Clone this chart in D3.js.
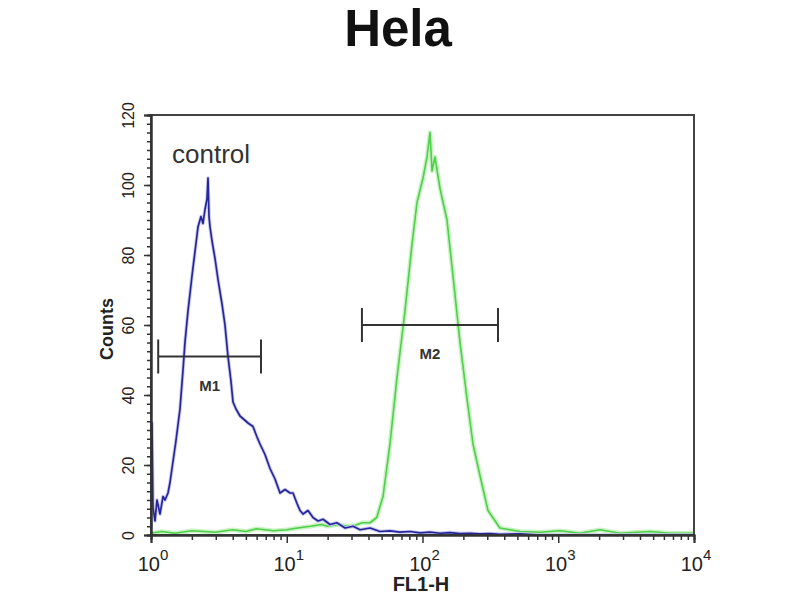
<!DOCTYPE html>
<html>
<head>
<meta charset="utf-8">
<script src="https://cdn.jsdelivr.net/npm/d3@7"></script>
<style>
  html, body { margin: 0; padding: 0; background: #fff; }
  svg { display: block; font-family: "Liberation Sans", Arial, sans-serif; }
</style>
</head>
<body>
<svg id="chart" width="800" height="600"></svg>
<script>
// ---- data ----
const title = "Hela";
const xLabel = "FL1-H";
const yLabel = "Counts";
const controlLabel = "control";

const yTicks = [0, 20, 40, 60, 80, 100, 120];
const xTicks = [1, 10, 100, 1000, 10000];
const xTickExp = ["0", "1", "2", "3", "4"];

// control (blue) histogram: FL1-H value, counts
const blueX = [1.000, 1.017, 1.034, 1.070, 1.107, 1.165, 1.226, 1.268, 1.334, 1.380, 1.452, 1.528,
  1.635, 1.720, 1.779, 1.873, 2.004, 2.109, 2.219, 2.334, 2.415, 2.499, 2.585, 2.630, 2.675,
  2.722, 2.815, 2.961, 3.116, 3.334, 3.508, 3.690, 3.882, 4.018, 4.227, 4.524, 4.842, 5.182,
  5.641, 6.037, 6.350, 6.913, 7.526, 8.193, 8.920, 9.71, 10.57, 11.12, 11.90, 12.52, 13.18,
  14.34, 15.61, 17.0, 18.5, 20.8, 23.4, 26.9, 30.8, 34.7, 41.1, 48.6, 57.6, 68.3, 80.9, 95.9,
  113.6, 134.6, 159.6, 189, 224, 265, 314, 372, 523, 734, 10000];
const blueY = [2, 32, 8, 4, 10, 6, 11, 10, 12, 15, 21, 27,
  36, 47, 55, 64, 74, 81, 88, 91, 89, 93, 96, 102, 91,
  88, 84, 79, 73, 66, 60, 51, 44, 38, 36, 34, 33, 32,
  31, 28, 26, 23, 19, 16, 12, 13, 12, 12, 9, 7, 6,
  7, 5, 4, 4.5, 3, 3.5, 2, 2.5, 1.5, 2, 1, 1.2, 0.8, 1, 0.6,
  0.8, 0.5, 0.7, 0.4, 0.5, 0.3, 0.4, 0.2, 0.3, 0, 0];

// stained (green) histogram
const greenX = [1.0, 1.2, 1.5, 2.0, 3.0, 4.0, 5.0, 6.0, 8.0, 10, 12, 15, 18, 20, 24, 28, 32, 36,
  41.1, 46, 51.2, 57.6, 64.9, 74.3, 83.7, 91.1, 100.9, 108, 113.6, 117.5, 123.6, 134.6, 151.5,
  167.8, 189, 212.8, 235.5, 265, 303.8, 372, 441, 523, 734, 1030, 1446, 2030, 2850, 4740, 6650, 10000];
const greenY = [0.5, 1, 0.5, 1.2, 0.8, 1.5, 1, 1.8, 1.2, 1.5, 2, 2.5, 3, 2.5, 3, 2.5, 2.8, 3.5,
  3.5, 5, 11, 26, 45, 64, 83, 95, 102, 108, 115, 104, 108, 99, 90,
  74, 55, 39, 26, 17, 7, 2, 1.5, 1, 0.8, 1.2, 0.5, 1.5, 0.5, 1, 0.5, 0.5];

// markers
const markerNames = ["M1", "M2"];
const markerStart = [1.13, 35.8];
const markerEnd = [6.46, 360];
const markerLevel = [51, 60];

// ---- layout ----
const svg = d3.select("#chart");
const pLeft = 151, pRight = 694, pTop = 115, pBottom = 535;
const x = d3.scaleLog().domain([1, 10000]).range([pLeft, pRight]);
const y = d3.scaleLinear().domain([0, 120]).range([pBottom, pTop]);
const axisColor = "#333";
const textColor = "#222";

// title
svg.append("text").attr("x", 398).attr("y", 46).attr("text-anchor", "middle")
  .attr("font-size", 51).attr("font-weight", "bold").attr("fill", "#111").text(title);

// clip
svg.append("defs").append("clipPath").attr("id", "clip")
  .append("rect").attr("x", pLeft).attr("y", pTop - 2).attr("width", pRight - pLeft).attr("height", pBottom - pTop + 2);

const lineGen = d3.line().x(d => x(d[0])).y(d => y(d[1]));
const green = greenX.map((v, i) => [v, greenY[i]]);
const blue = blueX.map((v, i) => [v, blueY[i]]);

const plot = svg.append("g").attr("clip-path", "url(#clip)");
plot.append("path").datum(green).attr("d", lineGen).attr("fill", "none")
  .attr("stroke", "#c9f3c4").attr("stroke-width", 4.5).attr("stroke-linejoin", "round");
plot.append("path").datum(green).attr("d", lineGen).attr("fill", "none")
  .attr("stroke", "#4fcf4a").attr("stroke-width", 1.6).attr("stroke-linejoin", "round");
plot.append("path").datum(blue).attr("d", lineGen).attr("fill", "none")
  .attr("stroke", "#c8c8ee").attr("stroke-width", 3.5).attr("stroke-linejoin", "round");
plot.append("path").datum(blue).attr("d", lineGen).attr("fill", "none")
  .attr("stroke", "#26269a").attr("stroke-width", 1.7).attr("stroke-linejoin", "round");

// frame
svg.append("rect").attr("x", pLeft).attr("y", pTop).attr("width", pRight - pLeft).attr("height", pBottom - pTop)
  .attr("fill", "none").attr("stroke", "#444").attr("stroke-width", 2);

// y axis
const yMinor = d3.range(0, 120.01, 2.5);
const yMinorAxis = svg.append("g").attr("transform", `translate(${pLeft},0)`)
  .call(d3.axisLeft(y).tickValues(yMinor).tickSize(4).tickFormat(""));
const yAxis = svg.append("g").attr("transform", `translate(${pLeft},0)`)
  .call(d3.axisLeft(y).tickValues(yTicks).tickSize(7).tickFormat(d3.format("d")));
[yMinorAxis, yAxis].forEach(g => {
  g.select(".domain").attr("stroke", axisColor).attr("stroke-width", 2);
  g.selectAll(".tick line").attr("stroke", axisColor).attr("stroke-width", 1.5);
});
yAxis.selectAll(".tick text")
  .attr("x", null).attr("dy", null)
  .attr("transform", "translate(-17,0) rotate(-90)")
  .attr("text-anchor", "middle")
  .attr("font-size", 16).attr("fill", textColor)
  .attr("font-family", "\"Liberation Sans\", Arial, sans-serif");

// x axis
const xMinor = [];
[1, 10, 100, 1000].forEach(d => { for (let k = 2; k <= 9; k++) xMinor.push(d * k); });
const xMinorAxis = svg.append("g").attr("transform", `translate(0,${pBottom})`)
  .call(d3.axisBottom(x).tickValues(xMinor).tickSize(5).tickFormat(""));
const xAxis = svg.append("g").attr("transform", `translate(0,${pBottom})`)
  .call(d3.axisBottom(x).tickValues(xTicks).tickSize(8).tickFormat(""));
[xMinorAxis, xAxis].forEach(g => {
  g.select(".domain").attr("stroke", axisColor).attr("stroke-width", 2);
  g.selectAll(".tick line").attr("stroke", axisColor).attr("stroke-width", 1.5);
});
const xLab = svg.append("g");
xTicks.forEach((t, i) => {
  const tx = xLab.append("text").attr("x", x(t) + 2).attr("y", 571)
    .attr("text-anchor", "middle").attr("font-size", 20).attr("fill", textColor);
  tx.append("tspan").text("10");
  tx.append("tspan").attr("dy", -11).attr("font-size", 15).text(xTickExp[i]);
});

// axis titles
svg.append("text").attr("x", 421).attr("y", 591).attr("text-anchor", "middle")
  .attr("font-size", 20).attr("font-weight", "bold").attr("fill", textColor).text(xLabel);
svg.append("text").attr("transform", "translate(113,329) rotate(-90)").attr("text-anchor", "middle")
  .attr("font-size", 18).attr("font-weight", "bold").attr("fill", textColor).text(yLabel);

// control label
svg.append("text").attr("x", 172).attr("y", 163).attr("font-size", 26)
  .attr("fill", "#333").text(controlLabel);

// markers
markerNames.forEach((name, i) => {
  const g = svg.append("g").attr("stroke", "#333").attr("stroke-width", 2);
  const yy = y(markerLevel[i]);
  const x0 = x(markerStart[i]), x1 = x(markerEnd[i]);
  g.append("line").attr("x1", x0).attr("x2", x1).attr("y1", yy).attr("y2", yy);
  g.append("line").attr("x1", x0).attr("x2", x0).attr("y1", yy - 17).attr("y2", yy + 17);
  g.append("line").attr("x1", x1).attr("x2", x1).attr("y1", yy - 17).attr("y2", yy + 17);
  svg.append("text").attr("x", (x0 + x1) / 2).attr("y", yy + 34).attr("text-anchor", "middle")
    .attr("font-size", 15).attr("font-weight", "bold").attr("fill", "#333").text(name);
});
</script>
</body>
</html>
